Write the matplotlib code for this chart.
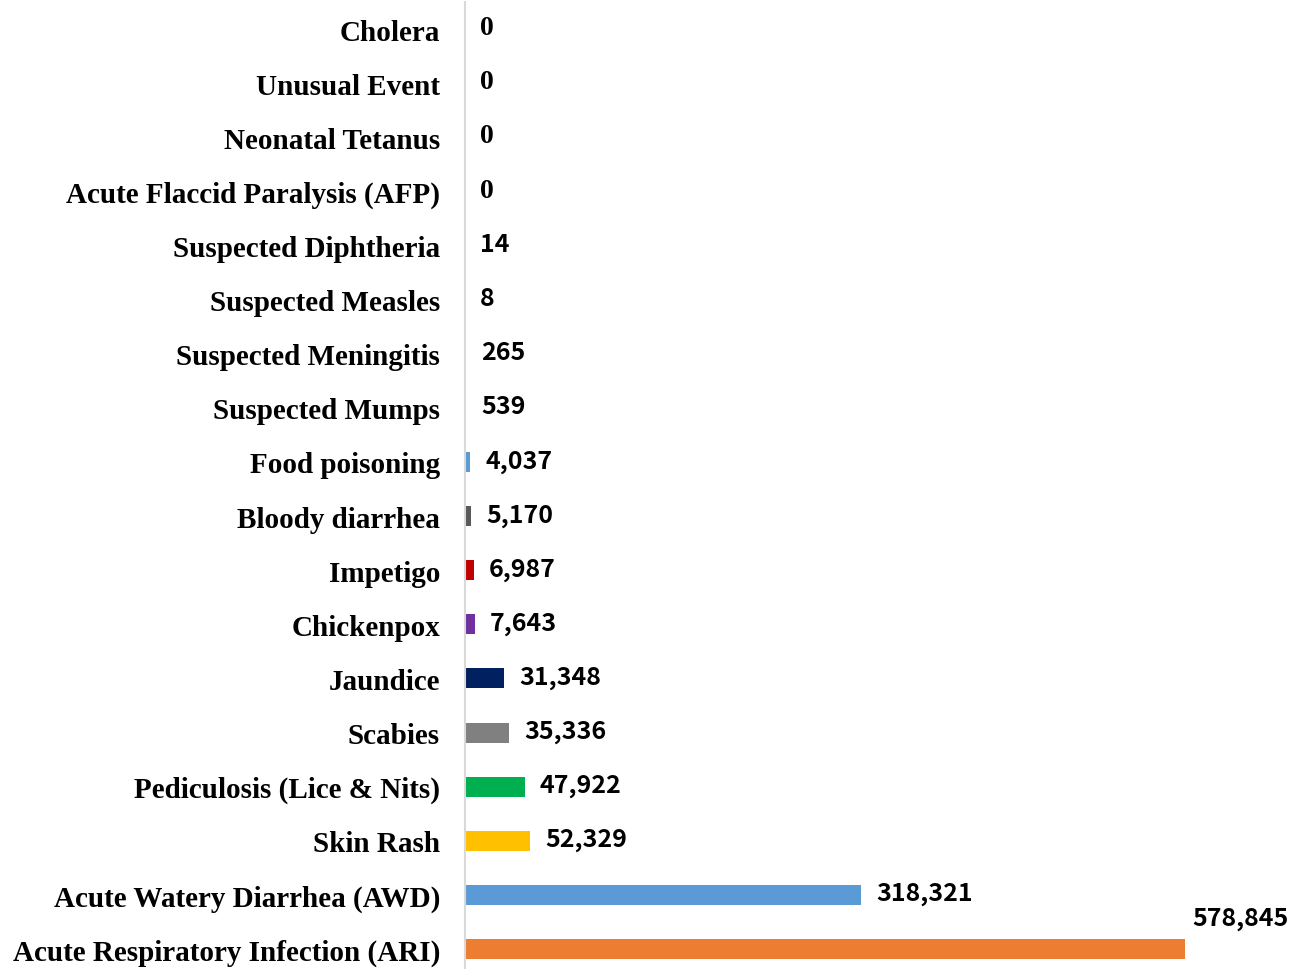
import matplotlib
matplotlib.use("Agg")
import matplotlib.pyplot as plt

# categories listed bottom to top
diseases = [
    "Acute Respiratory Infection (ARI)",
    "Acute Watery Diarrhea (AWD)",
    "Skin Rash",
    "Pediculosis (Lice & Nits)",
    "Scabies",
    "Jaundice",
    "Chickenpox",
    "Impetigo",
    "Bloody diarrhea",
    "Food poisoning",
    "Suspected Mumps",
    "Suspected Meningitis",
    "Suspected Measles",
    "Suspected Diphtheria",
    "Acute Flaccid Paralysis (AFP)",
    "Neonatal Tetanus",
    "Unusual Event",
    "Cholera",
]
cases = [578845, 318321, 52329, 47922, 35336, 31348, 7643, 6987, 5170, 4037,
         539, 265, 8, 14, 0, 0, 0, 0]
colors = ["#ED7D31", "#5B9BD5", "#FFC000", "#00B050", "#808080", "#002060",
          "#7030A0", "#C00000", "#595959", "#5B9BD5",
          "#ED7D31", "#A5A5A5", "#4472C4", "#70AD47", "#264478", "#9E480E",
          "#636363", "#997300"]

fig = plt.figure(figsize=(12.94, 9.70), dpi=100)
ax = fig.add_axes([465 / 1294, 0.0, 1 - 465 / 1294, 967 / 970])

y = list(range(len(diseases)))
ax.barh(y, cases, height=0.37, color=colors)

val_font = ["Noto Sans CJK KR", "DejaVu Sans"]
for i, v in enumerate(cases):
    if v == 0:
        ax.annotate("0", (v, i), xytext=(11, 1), textcoords="offset points",
                    va="center", ha="left", fontsize=20, fontweight="bold",
                    family="Liberation Serif")
    elif i == 0:
        ax.annotate(f"{v:,}", (v, i), xytext=(5, 22), textcoords="offset points",
                    va="center", ha="left", fontsize=18, fontweight="bold",
                    family=val_font)
    else:
        ax.annotate(f"{v:,}", (v, i), xytext=(11, 1), textcoords="offset points",
                    va="center", ha="left", fontsize=18, fontweight="bold",
                    family=val_font)

ax.set_xlim(0, 578845 * 829 / 720)
ax.set_ylim(-0.37, 17.5)
ax.set_yticks(y)
ax.set_yticklabels(diseases, family="Liberation Serif", fontweight="bold", fontsize=21)
ax.tick_params(axis="y", length=0, pad=18)
ax.set_xticks([])
for s in ["top", "right", "bottom"]:
    ax.spines[s].set_visible(False)
ax.spines["left"].set_color("#D9D9D9")
ax.spines["left"].set_linewidth(1.5)

fig.savefig("out.png", dpi=100)
